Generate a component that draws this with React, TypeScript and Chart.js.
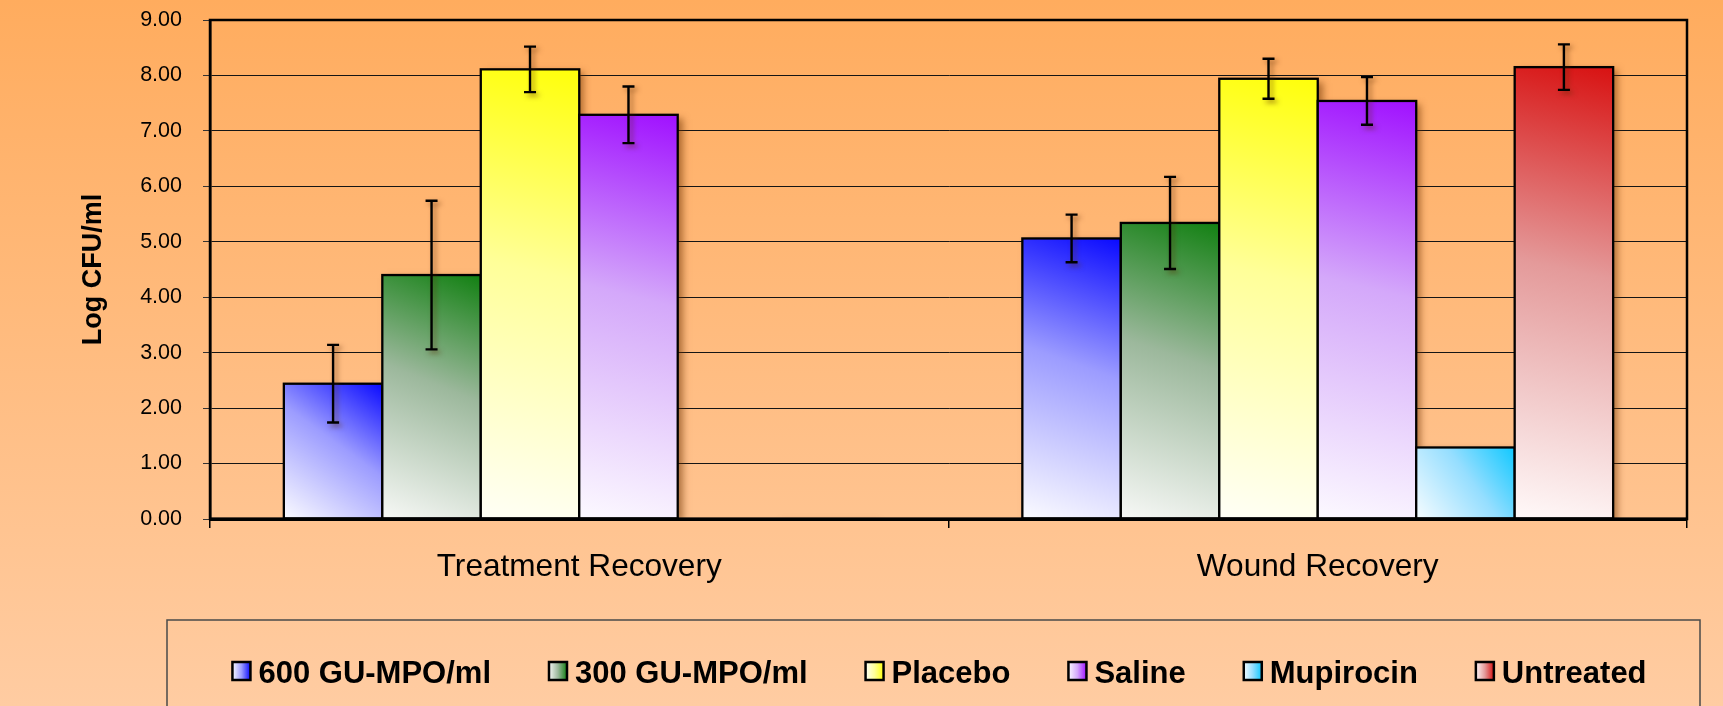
import React, { useEffect, useRef } from 'react';
import { Chart, registerables } from 'chart.js';

Chart.register(...registerables);

// ---------- data ----------
const categories = ['Treatment Recovery', 'Wound Recovery'];
const seriesNames = ['600 GU-MPO/ml', '300 GU-MPO/ml', 'Placebo', 'Saline', 'Mupirocin', 'Untreated'];

const mpo600 = [2.44, 5.06];
const mpo300 = [4.40, 5.34];
const placebo = [8.11, 7.94];
const saline = [7.29, 7.54];
const mupirocin = [null, 1.29];
const untreated = [0, 8.15];

const mpo600Err = [0.70, 0.43];
const mpo300Err = [1.34, 0.83];
const placeboErr = [0.41, 0.36];
const salineErr = [0.51, 0.43];
const mupirocinErr = [null, null];
const untreatedErr = [null, 0.41];

const yMin = 0;
const yMax = 9;
const yStep = 1;
const yTitle = 'Log CFU/ml';

// ---------- styles ----------
const FONT = '"Liberation Sans", Arial, Helvetica, sans-serif';
const seriesColors = [
  ['#0A0AFF', '#9C9CFF', '#FBFBFF'],
  ['#128012', '#9CB89C', '#F7F8F6'],
  ['#FFFF0A', '#FFFF99', '#FFFFF6'],
  ['#A010FF', '#D4A8FA', '#FCF9FF'],
  ['#10C8FF', '#95DEFF', '#F6FCFF'],
  ['#D81212', '#E49A9A', '#FFF9F9'],
];

const seriesValues = [mpo600, mpo300, placebo, saline, mupirocin, untreated];
const seriesErrors = [mpo600Err, mpo300Err, placeboErr, salineErr, mupirocinErr, untreatedErr];

function barRect(el: any) {
  const p = el.getProps(['x', 'y', 'base', 'width'], true);
  return {
    left: p.x - p.width / 2,
    right: p.x + p.width / 2,
    top: Math.min(p.y, p.base),
    bottom: Math.max(p.y, p.base),
  };
}

const backgroundPlugin = {
  id: 'bgGradient',
  beforeDraw(chart: any) {
    const { ctx, width, height } = chart;
    const g = ctx.createLinearGradient(0, 0, 0, height);
    g.addColorStop(0, '#FFAC5E');
    g.addColorStop(1, '#FFCCA2');
    ctx.save();
    ctx.fillStyle = g;
    ctx.fillRect(0, 0, width, height);
    ctx.restore();
  },
};

const barPlugin = {
  id: 'gradientBars',
  beforeDatasetsDraw(chart: any) {
    const { ctx, chartArea } = chart;
    ctx.save();
    ctx.beginPath();
    ctx.rect(chartArea.left, chartArea.top, chartArea.right - chartArea.left, chartArea.bottom - chartArea.top);
    ctx.clip();
    // shadows
    chart.data.datasets.forEach((ds: any, di: number) => {
      const meta = chart.getDatasetMeta(di);
      meta.data.forEach((el: any, i: number) => {
        if (ds.data[i] == null) return;
        const r = barRect(el);
        ctx.save();
        ctx.shadowColor = 'rgba(110,50,0,0.55)';
        ctx.shadowBlur = 7;
        ctx.shadowOffsetX = 5;
        ctx.shadowOffsetY = 3;
        ctx.fillStyle = '#FFC89A';
        ctx.fillRect(r.left, r.top, r.right - r.left, Math.max(r.bottom - r.top, 1));
        ctx.restore();
      });
    });
    // fills + outlines
    chart.data.datasets.forEach((ds: any, di: number) => {
      const meta = chart.getDatasetMeta(di);
      const cols = seriesColors[di];
      meta.data.forEach((el: any, i: number) => {
        if (ds.data[i] == null) return;
        const r = barRect(el);
        if (r.bottom - r.top < 0.5) return;
        const g = ctx.createLinearGradient(r.right, r.top, r.left, r.bottom);
        g.addColorStop(0, cols[0]);
        g.addColorStop(0.45, cols[1]);
        g.addColorStop(1, cols[2]);
        ctx.fillStyle = g;
        ctx.fillRect(r.left, r.top, r.right - r.left, r.bottom - r.top);
        ctx.strokeStyle = '#000';
        ctx.lineWidth = 2.3;
        ctx.strokeRect(r.left, r.top, r.right - r.left, r.bottom - r.top);
      });
    });
    ctx.restore();
  },
  afterDatasetsDraw(chart: any) {
    const { ctx, chartArea } = chart;
    const yScale = chart.scales.y;
    // error bars
    chart.data.datasets.forEach((ds: any, di: number) => {
      const meta = chart.getDatasetMeta(di);
      meta.data.forEach((el: any, i: number) => {
        const v = ds.data[i];
        const e = ds.errors ? ds.errors[i] : null;
        if (v == null || e == null) return;
        const x = el.x;
        const yT = yScale.getPixelForValue(v + e);
        const yB = yScale.getPixelForValue(v - e);
        ctx.save();
        ctx.shadowColor = 'rgba(90,40,0,0.55)';
        ctx.shadowBlur = 5;
        ctx.shadowOffsetX = 3;
        ctx.shadowOffsetY = 3;
        ctx.strokeStyle = '#000';
        ctx.lineWidth = 2.4;
        ctx.beginPath();
        ctx.moveTo(x, yT);
        ctx.lineTo(x, yB);
        ctx.moveTo(x - 6, yT);
        ctx.lineTo(x + 6, yT);
        ctx.moveTo(x - 6, yB);
        ctx.lineTo(x + 6, yB);
        ctx.stroke();
        ctx.restore();
      });
    });
    // plot frame
    ctx.save();
    ctx.strokeStyle = '#000';
    ctx.lineWidth = 2.5;
    ctx.strokeRect(chartArea.left, chartArea.top, chartArea.right - chartArea.left, chartArea.bottom - chartArea.top);
    ctx.lineWidth = 3;
    ctx.beginPath();
    ctx.moveTo(chartArea.left, chartArea.bottom);
    ctx.lineTo(chartArea.right, chartArea.bottom);
    ctx.stroke();
    ctx.restore();
  },
};

const legendPlugin = {
  id: 'boxLegend',
  afterDraw(chart: any) {
    const { ctx } = chart;
    const frameL = 167;
    const frameR = 1700;
    const frameT = 620;
    const frameB = chart.height + 6;
    ctx.save();
    ctx.strokeStyle = '#4a4a4a';
    ctx.lineWidth = 1.5;
    ctx.strokeRect(frameL, frameT, frameR - frameL, frameB - frameT);

    ctx.font = `bold 31px ${FONT}`;
    const boxW = 18;
    const boxH = 18;
    const boxGap = 8;
    const itemGap = 58;
    const widths = seriesNames.map((n) => ctx.measureText(n).width);
    const total =
      widths.reduce((a, b) => a + b, 0) + seriesNames.length * (boxW + boxGap) + (seriesNames.length - 1) * itemGap;
    let x = (frameL + frameR) / 2 + 6 - total / 2;
    const baseline = 683;
    seriesNames.forEach((name, i) => {
      const cols = seriesColors[i];
      const g = ctx.createLinearGradient(x, 0, x + boxW, 0);
      g.addColorStop(0, cols[2]);
      g.addColorStop(0.5, cols[1]);
      g.addColorStop(1, cols[0]);
      ctx.fillStyle = g;
      const by = baseline - 21;
      ctx.fillRect(x, by, boxW, boxH);
      ctx.strokeStyle = '#000';
      ctx.lineWidth = 2.5;
      ctx.strokeRect(x, by, boxW, boxH);
      ctx.fillStyle = '#000';
      ctx.textBaseline = 'alphabetic';
      ctx.textAlign = 'left';
      ctx.fillText(name, x + boxW + boxGap, baseline);
      x += boxW + boxGap + widths[i] + itemGap;
    });
    ctx.restore();
  },
};

export default function App() {
  const ref = useRef<HTMLCanvasElement>(null);

  useEffect(() => {
    const canvas = ref.current;
    if (!canvas) return;
    const chart = new Chart(canvas, {
      type: 'bar',
      data: {
        labels: categories,
        datasets: seriesNames.map((name, i) => ({
          label: name,
          data: seriesValues[i],
          errors: seriesErrors[i],
          backgroundColor: 'rgba(0,0,0,0)',
          borderWidth: 0,
          categoryPercentage: 0.8,
          barPercentage: 1.0,
        })) as any,
      },
      options: {
        responsive: false,
        maintainAspectRatio: false,
        devicePixelRatio: 1,
        animation: false,
        layout: { padding: { left: 70, right: 36, top: 20, bottom: 107 } },
        plugins: {
          legend: { display: false },
          tooltip: { enabled: false },
          title: { display: false },
        },
        scales: {
          x: {
            ticks: {
              color: '#000',
              font: { family: FONT, size: 31.6 },
              padding: 20,
              maxRotation: 0,
              autoSkip: false,
            },
            grid: {
              drawOnChartArea: false,
              drawTicks: true,
              tickLength: 9,
              color: '#000',
              lineWidth: 1.5,
              offset: true,
            },
            border: { display: true, color: '#000', width: 3 },
            afterFit: (s: any) => {
              s.height = 80;
            },
          },
          y: {
            min: yMin,
            max: yMax,
            ticks: {
              stepSize: yStep,
              color: '#000',
              font: { family: FONT, size: 21.5 },
              padding: 21,
              callback: (v: any) => Number(v).toFixed(2),
            },
            grid: {
              color: '#151515',
              lineWidth: 1,
              drawTicks: true,
              tickLength: 7,
              tickColor: '#333',
            },
            border: { display: true, color: '#000', width: 2.5 },
            title: {
              display: true,
              text: yTitle,
              color: '#000',
              font: { family: FONT, size: 27, weight: 'bold' },
              padding: { top: 7, bottom: 0 },
            },
            afterFit: (s: any) => {
              s.width = 140;
              s.paddingTop = 0;
              s.paddingBottom = 0;
            },
          },
        },
      },
      plugins: [backgroundPlugin, barPlugin, legendPlugin],
    });
    return () => chart.destroy();
  }, []);

  return (
    <div style={{ position: 'fixed', left: 0, top: 0, width: 1723, height: 706 }}>
      <canvas ref={ref} width={1723} height={706} style={{ display: 'block', width: 1723, height: 706 }} />
    </div>
  );
}
